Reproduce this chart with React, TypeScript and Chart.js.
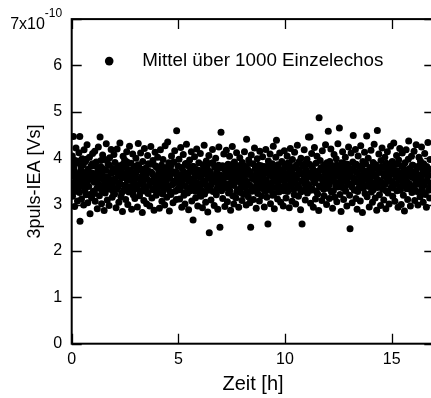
import React, { useEffect, useRef } from "react";
import { Chart, registerables } from "chart.js";

Chart.register(...registerables);

// Zeit [h], 3puls-IEA [10^-10 Vs]
const hour00 = [[0.01,3.62],[0.03,4.05],[0.04,3.18],[0.06,3.85],[0.08,4.47],[0.10,3.40],[0.12,3.73],[0.14,2.96],[0.16,3.95],[0.18,3.52],[0.20,4.22],[0.23,3.31],[0.25,3.66],[0.27,3.08],[0.29,3.89],[0.31,3.47],[0.34,4.12],[0.36,3.26],[0.38,4.47],[0.39,2.64],[0.42,3.58],[0.44,3.79],[0.46,3.12],[0.49,3.99],[0.51,3.43],[0.53,3.70],[0.56,2.99],[0.58,4.18],[0.60,3.36],[0.63,3.61],[0.65,3.93],[0.67,3.21],[0.70,3.50],[0.72,4.29],[0.75,3.04],[0.77,3.76],[0.80,3.39],[0.83,4.02],[0.86,2.80],[0.88,3.55],[0.91,3.83],[0.93,3.15],[0.96,3.68],[0.98,4.10],
  [0.02,3.45],[0.09,3.80],[0.15,3.28],[0.21,3.64],[0.28,3.92],[0.33,3.37],[0.41,3.71],[0.47,3.55],[0.54,3.86],[0.62,3.30],[0.69,3.98],[0.74,3.49],[0.81,3.66],[0.85,3.22],[0.92,3.58],[0.97,3.88]];
const hour01 = [[1.01,3.29],[1.03,3.86],[1.06,3.48],[1.08,4.15],[1.10,3.07],[1.13,3.64],[1.15,3.92],[1.18,3.35],[1.20,2.91],[1.22,3.72],[1.25,4.24],[1.27,3.44],[1.30,3.19],[1.33,4.46],[1.35,3.57],[1.38,3.81],[1.40,3.02],[1.42,3.66],[1.45,4.07],[1.47,3.38],[1.50,3.53],[1.52,2.87],[1.55,3.97],[1.57,3.25],[1.60,3.74],[1.62,4.31],[1.65,3.46],[1.67,3.10],[1.70,3.88],[1.72,3.59],[1.75,2.98],[1.78,4.01],[1.80,3.33],[1.83,3.69],[1.85,4.19],[1.88,3.41],[1.90,3.16],[1.93,3.78],[1.95,3.54],[1.98,4.08],
  [1.02,3.62],[1.07,3.24],[1.12,3.83],[1.19,3.51],[1.24,3.36],[1.31,3.70],[1.37,3.95],[1.44,3.29],[1.49,3.77],[1.56,3.43],[1.63,3.60],[1.69,3.34],[1.76,3.85],[1.82,3.49],[1.89,3.68],[1.96,3.26]];
const hour02 = [[2.01,3.23],[2.03,3.91],[2.06,3.50],[2.08,2.93],[2.11,3.71],[2.13,4.20],[2.16,3.37],[2.18,3.62],[2.21,3.05],[2.23,3.84],[2.26,4.33],[2.28,3.45],[2.31,3.17],[2.33,3.77],[2.36,3.58],[2.38,2.85],[2.41,4.04],[2.43,3.30],[2.46,3.67],[2.48,3.96],[2.51,3.42],[2.53,3.11],[2.56,3.80],[2.58,4.14],[2.61,3.52],[2.63,3.00],[2.66,3.73],[2.68,3.27],[2.71,4.26],[2.73,3.60],[2.76,3.39],[2.78,3.89],[2.81,2.90],[2.83,3.63],[2.86,4.09],[2.88,3.21],[2.91,3.48],[2.93,3.82],[2.96,3.13],[2.98,3.70],
  [2.04,3.55],[2.09,3.33],[2.14,3.79],[2.20,3.47],[2.27,3.68],[2.34,3.25],[2.40,3.87],[2.47,3.40],[2.54,3.61],[2.60,3.92],[2.67,3.35],[2.74,3.74],[2.80,3.53],[2.87,3.29],[2.92,3.66],[2.97,3.44]];
const hour03 = [[3.01,4.00],[3.03,3.34],[3.06,3.57],[3.08,2.95],[3.11,3.86],[3.12,4.32],[3.16,3.44],[3.18,3.19],[3.21,3.75],[3.23,4.11],[3.26,3.28],[3.28,3.61],[3.31,2.83],[3.33,3.93],[3.36,3.49],[3.38,3.09],[3.41,4.21],[3.43,3.68],[3.46,3.36],[3.48,3.79],[3.51,3.02],[3.53,3.55],[3.56,4.06],[3.58,3.24],[3.61,3.72],[3.63,3.41],[3.66,2.97],[3.68,3.87],[3.71,4.25],[3.73,3.51],[3.76,3.14],[3.78,3.66],[3.81,3.95],[3.83,3.32],[3.86,2.88],[3.88,3.59],[3.91,4.13],[3.93,3.46],[3.96,3.20],[3.98,3.81],
  [3.02,3.69],[3.09,3.41],[3.14,3.83],[3.20,3.30],[3.27,3.55],[3.34,3.76],[3.40,3.38],[3.47,3.62],[3.54,3.27],[3.60,3.88],[3.67,3.46],[3.74,3.70],[3.80,3.33],[3.87,3.58],[3.92,3.84],[3.97,3.39]];
const hour04 = [[4.01,3.53],[4.03,4.02],[4.06,3.26],[4.08,3.74],[4.11,2.92],[4.13,3.64],[4.16,4.18],[4.18,3.40],[4.21,3.85],[4.23,3.07],[4.26,3.58],[4.28,3.97],[4.31,3.31],[4.33,3.69],[4.36,2.99],[4.38,4.27],[4.41,3.47],[4.43,3.80],[4.46,3.16],[4.48,3.62],[4.50,4.35],[4.53,3.38],[4.55,3.90],[4.58,2.86],[4.60,3.56],[4.63,3.76],[4.65,3.22],[4.68,4.05],[4.70,3.43],[4.73,3.67],[4.75,3.04],[4.78,3.92],[4.80,3.50],[4.83,4.16],[4.85,3.29],[4.88,3.71],[4.90,3.11],[4.92,4.59],[4.95,3.60],[4.98,3.83],
  [4.02,3.33],[4.07,3.66],[4.14,3.48],[4.20,3.81],[4.27,3.23],[4.34,3.55],[4.40,3.72],[4.47,3.37],[4.54,3.63],[4.61,3.28],[4.67,3.86],[4.74,3.44],[4.81,3.69],[4.87,3.52],[4.93,3.31],[4.99,3.47]];
const hour05 = [[5.01,3.35],[5.03,3.98],[5.06,3.12],[5.08,3.65],[5.11,4.23],[5.13,3.45],[5.16,2.94],[5.18,3.78],[5.21,3.54],[5.23,4.08],[5.26,3.20],[5.28,3.70],[5.31,3.01],[5.33,3.88],[5.36,3.39],[5.38,4.30],[5.41,3.61],[5.43,3.25],[5.46,3.84],[5.48,2.89],[5.51,3.57],[5.53,3.96],[5.56,3.30],[5.58,3.73],[5.61,4.14],[5.63,3.08],[5.66,3.49],[5.69,2.67],[5.71,3.82],[5.73,3.37],[5.76,4.03],[5.78,3.63],[5.81,3.15],[5.83,3.76],[5.86,4.20],[5.88,3.42],[5.91,2.97],[5.93,3.68],[5.96,3.90],[5.98,3.27],
  [5.04,3.56],[5.09,3.32],[5.14,3.80],[5.20,3.43],[5.27,3.64],[5.34,3.26],[5.40,3.89],[5.47,3.51],[5.54,3.71],[5.60,3.38],[5.67,3.82],[5.74,3.55],[5.80,3.29],[5.87,3.67],[5.92,3.46],[5.97,3.74]];
const hour06 = [[6.01,3.59],[6.03,4.10],[6.06,3.18],[6.08,3.72],[6.11,3.44],[6.13,2.93],[6.16,3.86],[6.18,3.52],[6.21,4.28],[6.23,3.23],[6.26,3.66],[6.28,3.05],[6.31,3.94],[6.33,3.40],[6.36,3.77],[6.38,2.84],[6.41,3.58],[6.43,4.06],[6.45,2.39],[6.48,3.33],[6.50,3.71],[6.53,3.10],[6.55,3.89],[6.58,3.47],[6.60,4.19],[6.63,3.28],[6.65,3.62],[6.68,2.98],[6.70,3.81],[6.73,3.51],[6.75,4.00],[6.78,3.21],[6.80,3.69],[6.83,3.36],[6.85,2.90],[6.88,3.85],[6.90,4.24],[6.93,3.43],[6.95,2.51],[6.98,3.64],
  [6.02,3.37],[6.07,3.63],[6.14,3.29],[6.20,3.75],[6.27,3.49],[6.34,3.83],[6.40,3.31],[6.47,3.66],[6.54,3.42],[6.61,3.90],[6.67,3.54],[6.74,3.27],[6.81,3.60],[6.87,3.44],[6.92,3.79],[6.97,3.35]];
const hour07 = [[7.00,4.56],[7.03,3.30],[7.05,3.79],[7.08,3.13],[7.10,3.57],[7.13,4.09],[7.15,3.46],[7.18,2.96],[7.20,3.74],[7.23,3.38],[7.25,4.17],[7.28,3.60],[7.30,3.06],[7.33,3.87],[7.35,3.25],[7.38,3.67],[7.40,4.04],[7.43,3.41],[7.45,2.88],[7.48,3.80],[7.50,3.53],[7.53,4.25],[7.55,3.19],[7.58,3.70],[7.60,3.01],[7.63,3.92],[7.65,3.48],[7.68,3.75],[7.70,3.14],[7.73,4.12],[7.75,3.55],[7.78,3.32],[7.80,3.84],[7.83,2.94],[7.85,3.63],[7.88,4.01],[7.90,3.26],[7.93,3.78],[7.95,3.45],[7.98,3.09],
  [7.02,3.52],[7.07,3.84],[7.14,3.36],[7.21,3.63],[7.27,3.45],[7.34,3.77],[7.41,3.30],[7.47,3.58],[7.54,3.87],[7.61,3.41],[7.67,3.66],[7.74,3.28],[7.81,3.73],[7.87,3.50],[7.92,3.35],[7.97,3.69]];
const hour08 = [[8.00,3.91],[8.03,3.58],[8.05,3.22],[8.08,3.83],[8.10,4.14],[8.13,3.37],[8.15,3.65],[8.18,2.99],[8.20,4.41],[8.23,3.50],[8.25,3.76],[8.28,3.17],[8.30,3.96],[8.33,3.43],[8.35,3.04],[8.38,3.71],[8.39,2.51],[8.42,4.07],[8.45,3.29],[8.47,3.62],[8.50,3.88],[8.52,3.11],[8.55,3.54],[8.57,4.22],[8.60,3.35],[8.62,3.80],[8.65,2.92],[8.67,3.68],[8.70,3.99],[8.72,3.24],[8.75,3.56],[8.77,3.85],[8.80,3.08],[8.82,4.15],[8.85,3.47],[8.87,3.73],[8.90,3.19],[8.92,3.61],[8.95,4.03],[8.97,3.34],
  [8.02,3.44],[8.07,3.72],[8.14,3.52],[8.21,3.28],[8.27,3.65],[8.34,3.89],[8.41,3.39],[8.48,3.57],[8.54,3.31],[8.61,3.78],[8.68,3.46],[8.74,3.63],[8.81,3.36],[8.88,3.84],[8.93,3.53],[8.98,3.70]];
const hour09 = [[9.00,3.66],[9.03,2.95],[9.05,3.82],[9.08,3.40],[9.10,4.19],[9.13,3.53],[9.15,3.16],[9.18,3.77],[9.20,2.58],[9.22,3.94],[9.25,3.31],[9.27,3.64],[9.30,4.09],[9.32,3.02],[9.35,3.71],[9.37,3.46],[9.40,3.88],[9.42,3.20],[9.45,4.26],[9.47,3.57],[9.50,2.91],[9.52,3.79],[9.55,3.37],[9.57,4.02],[9.60,4.39],[9.62,3.61],[9.65,3.12],[9.67,3.86],[9.70,3.49],[9.72,3.27],[9.75,4.11],[9.77,3.70],[9.80,3.05],[9.82,3.59],[9.85,3.93],[9.87,3.33],[9.90,3.75],[9.92,2.97],[9.95,3.52],[9.97,4.16],
  [9.02,3.48],[9.07,3.29],[9.14,3.68],[9.21,3.45],[9.28,3.83],[9.34,3.36],[9.41,3.60],[9.48,3.24],[9.54,3.73],[9.61,3.50],[9.68,3.81],[9.74,3.39],[9.81,3.65],[9.88,3.54],[9.93,3.30],[9.98,3.86]];
const hour10 = [[10.00,3.42],[10.03,3.81],[10.05,3.14],[10.08,3.67],[10.10,4.05],[10.13,3.28],[10.15,3.90],[10.18,3.55],[10.20,2.93],[10.23,3.73],[10.25,4.21],[10.28,3.39],[10.30,3.62],[10.33,3.07],[10.35,3.97],[10.38,3.48],[10.40,3.78],[10.43,3.21],[10.45,4.13],[10.48,3.58],[10.50,3.01],[10.53,3.85],[10.55,3.44],[10.58,4.28],[10.60,3.65],[10.63,3.18],[10.65,3.92],[10.68,3.36],[10.70,3.70],[10.73,2.89],[10.75,4.00],[10.78,3.51],[10.80,2.58],[10.82,3.83],[10.85,3.30],[10.87,3.63],[10.90,4.18],[10.92,3.45],[10.95,3.10],[10.97,3.76],
  [10.02,3.61],[10.07,3.35],[10.14,3.54],[10.21,3.86],[10.27,3.45],[10.34,3.69],[10.41,3.32],[10.47,3.80],[10.54,3.57],[10.61,3.40],[10.67,3.74],[10.74,3.27],[10.81,3.66],[10.88,3.49],[10.93,3.88],[10.98,3.33]];
const hour11 = [[11.00,3.54],[11.03,3.98],[11.05,3.25],[11.08,3.69],[11.10,4.46],[11.13,3.41],[11.15,3.87],[11.17,4.46],[11.20,3.03],[11.23,3.60],[11.25,4.10],[11.28,3.34],[11.30,3.77],[11.33,2.94],[11.35,3.66],[11.38,4.23],[11.40,3.47],[11.43,3.12],[11.45,3.89],[11.48,3.56],[11.50,4.04],[11.53,3.23],[11.55,3.72],[11.58,2.87],[11.60,4.87],[11.62,3.61],[11.65,3.95],[11.68,3.38],[11.70,3.80],[11.73,3.09],[11.75,4.16],[11.78,3.50],[11.80,3.74],[11.83,3.19],[11.85,3.86],[11.88,3.43],[11.90,4.29],[11.93,3.64],[11.95,3.00],[11.98,3.82],
  [11.02,3.70],[11.07,3.44],[11.14,3.63],[11.21,3.31],[11.27,3.82],[11.34,3.52],[11.41,3.71],[11.47,3.29],[11.54,3.58],[11.61,3.40],[11.67,3.76],[11.74,3.55],[11.81,3.33],[11.87,3.68],[11.92,3.47],[11.97,3.90]];
const hour12 = [[12.00,3.35],[12.03,4.58],[12.05,3.71],[12.08,3.13],[12.10,3.93],[12.13,3.49],[12.15,4.20],[12.18,3.27],[12.20,3.68],[12.23,2.92],[12.25,3.84],[12.28,3.52],[12.30,4.08],[12.33,3.16],[12.35,3.75],[12.38,3.40],[12.40,3.99],[12.43,3.06],[12.45,3.63],[12.48,4.31],[12.50,3.46],[12.53,3.79],[12.55,4.65],[12.58,3.22],[12.60,3.59],[12.63,2.85],[12.65,3.90],[12.68,3.37],[12.70,4.14],[12.73,3.66],[12.75,3.11],[12.78,3.81],[12.80,3.53],[12.83,4.02],[12.85,3.29],[12.88,3.73],[12.90,2.97],[12.93,3.87],[12.95,3.44],[12.98,4.24],
  [12.02,3.58],[12.07,3.42],[12.14,3.80],[12.21,3.55],[12.27,3.30],[12.34,3.64],[12.41,3.85],[12.47,3.38],[12.54,3.60],[12.61,3.74],[12.67,3.47],[12.74,3.89],[12.81,3.34],[12.87,3.62],[12.92,3.51],[12.97,3.77]];
const hour13 = [[13.00,3.60],[13.03,3.20],[13.05,2.48],[13.08,3.78],[13.10,4.11],[13.13,3.45],[13.15,3.04],[13.18,3.92],[13.20,4.49],[13.23,3.57],[13.25,3.31],[13.28,3.85],[13.30,4.19],[13.33,3.13],[13.35,3.70],[13.38,2.90],[13.40,3.48],[13.43,4.05],[13.45,3.36],[13.48,3.82],[13.50,3.62],[13.53,3.08],[13.55,4.27],[13.58,3.51],[13.60,3.76],[13.63,2.83],[13.65,3.93],[13.68,3.42],[13.70,3.67],[13.73,4.13],[13.75,3.24],[13.78,3.88],[13.80,3.55],[13.83,4.48],[13.85,3.17],[13.88,3.71],[13.90,4.00],[13.93,3.39],[13.95,2.95],[13.98,3.80],
  [13.02,3.44],[13.07,3.66],[13.14,3.38],[13.21,3.75],[13.27,3.53],[13.34,3.87],[13.41,3.28],[13.47,3.63],[13.54,3.46],[13.61,3.81],[13.67,3.35],[13.74,3.58],[13.81,3.72],[13.87,3.42],[13.92,3.67],[13.97,3.54]];
const hour14 = [[14.00,3.58],[14.03,4.17],[14.05,3.27],[14.08,3.74],[14.10,3.05],[14.13,3.91],[14.15,3.46],[14.18,4.30],[14.20,3.65],[14.23,3.14],[14.25,3.86],[14.28,3.40],[14.30,2.88],[14.33,4.60],[14.35,3.77],[14.38,3.53],[14.40,4.09],[14.43,3.21],[14.45,3.69],[14.48,2.98],[14.50,3.95],[14.53,3.48],[14.55,4.22],[14.58,3.33],[14.60,3.80],[14.63,3.10],[14.65,3.61],[14.68,4.02],[14.70,3.44],[14.73,2.91],[14.75,3.89],[14.78,3.56],[14.80,4.14],[14.83,3.25],[14.85,3.72],[14.88,3.01],[14.90,3.84],[14.93,3.50],[14.95,4.26],[14.98,3.37],
  [14.02,3.41],[14.07,3.63],[14.14,3.32],[14.21,3.86],[14.27,3.59],[14.34,3.37],[14.41,3.71],[14.47,3.50],[14.54,3.82],[14.61,3.43],[14.67,3.67],[14.74,3.30],[14.81,3.78],[14.87,3.55],[14.92,3.64],[14.97,3.88]];
const hour15 = [[15.00,3.68],[15.03,3.93],[15.05,3.18],[15.08,3.79],[15.10,4.33],[15.13,3.43],[15.15,3.07],[15.18,3.87],[15.20,3.59],[15.23,4.06],[15.25,3.30],[15.28,3.73],[15.30,2.94],[15.33,3.96],[15.35,3.52],[15.38,4.21],[15.40,3.38],[15.43,3.66],[15.45,3.00],[15.48,3.83],[15.50,4.11],[15.53,3.47],[15.55,3.20],[15.58,3.75],[15.60,2.86],[15.63,3.90],[15.65,3.55],[15.68,4.18],[15.70,3.34],[15.73,3.64],[15.75,3.11],[15.78,3.98],[15.80,4.37],[15.83,3.45],[15.85,3.78],[15.88,2.97],[15.90,3.70],[15.93,4.04],[15.95,3.26],[15.98,3.62],
  [15.02,3.50],[15.07,3.36],[15.14,3.71],[15.21,3.45],[15.27,3.88],[15.34,3.62],[15.41,3.31],[15.47,3.57],[15.54,3.83],[15.61,3.40],[15.67,3.69],[15.74,3.48],[15.81,3.76],[15.87,3.34],[15.92,3.60],[15.97,3.85]];
const hour16 = [[16.00,3.85],[16.03,3.40],[16.05,4.15],[16.08,3.09],[16.10,3.71],[16.13,3.51],[16.15,4.29],[16.18,3.28],[16.20,3.80],[16.23,2.99],[16.25,3.63],[16.28,4.02],[16.30,3.44],[16.33,3.17],[16.35,3.94],[16.38,3.57],[16.40,4.24],[16.43,3.36],[16.45,3.75],[16.48,3.05],[16.50,3.88],[16.53,3.49],[16.55,4.10],[16.58,3.22],[16.60,3.68],[16.63,2.94],[16.65,3.82],[16.68,3.60],[16.70,4.34],[16.73,3.31],[16.75,3.77],[16.78,3.14],[16.80,3.97],[16.83,3.46],
  [16.02,3.58],[16.07,3.34],[16.14,3.70],[16.21,3.47],[16.27,3.83],[16.34,3.55],[16.41,3.30],[16.47,3.67],[16.54,3.42],[16.61,3.79],[16.67,3.51],[16.74,3.64],[16.81,3.38]];

const xTicks = [0, 5, 10, 15];
const yTicks = [0, 1, 2, 3, 4, 5, 6, 7];
const yTickLabels = ["0", "1", "2", "3", "4", "5", "6"];
const legendLabel = "Mittel über 1000 Einzelechos";
const xTitle = "Zeit [h]";
const yTitle = "3puls-IEA [Vs]";
const topLabelMain = "7x10";
const topLabelExp = "-10";

const FONT = "'Liberation Sans', Arial, Helvetica, sans-serif";
const CANVAS_W = 452;
const CANVAS_H = 398;
const TICK_LEN = 10;

const decorPlugin = {
  id: "decor",
  afterDatasetsDraw(chart: any) {
    const { ctx, chartArea: a, scales } = chart;
    const xs = scales.x;
    const ys = scales.y;
    ctx.save();
    ctx.strokeStyle = "#000";
    ctx.lineWidth = 1.3;
    ctx.beginPath();
    for (const t of xs.ticks) {
      const px = Math.round(xs.getPixelForValue(t.value)) + 0.5;
      ctx.moveTo(px, a.bottom);
      ctx.lineTo(px, a.bottom - TICK_LEN);
      ctx.moveTo(px, a.top);
      ctx.lineTo(px, a.top + TICK_LEN);
    }
    for (const t of ys.ticks) {
      const py = Math.round(ys.getPixelForValue(t.value)) + 0.5;
      ctx.moveTo(a.left, py);
      ctx.lineTo(a.left + TICK_LEN, py);
      ctx.moveTo(a.right, py);
      ctx.lineTo(a.right - TICK_LEN, py);
    }
    ctx.stroke();
    ctx.lineWidth = 2;
    ctx.strokeRect(a.left, a.top, a.right - a.left, a.bottom - a.top);

    // legend
    ctx.fillStyle = "#000";
    ctx.beginPath();
    ctx.arc(a.left + 37.5, a.top + 42, 4.3, 0, Math.PI * 2);
    ctx.fill();
    ctx.font = `18.8px ${FONT}`;
    ctx.textAlign = "left";
    ctx.textBaseline = "middle";
    ctx.fillText(legendLabel, a.left + 70.5, a.top + 42);

    // top y label with exponent
    const y7 = ys.getPixelForValue(7);
    const rightX = a.left - 9.5;
    ctx.textAlign = "right";
    ctx.font = `12px ${FONT}`;
    const expW = ctx.measureText(topLabelExp).width;
    ctx.fillText(topLabelExp, rightX, y7 - 5);
    ctx.font = `16px ${FONT}`;
    ctx.fillText(topLabelMain, rightX - expW, y7 + 5);
    ctx.restore();
  },
};

export default function App() {
  const ref = useRef<HTMLCanvasElement | null>(null);
  useEffect(() => {
    if (!ref.current) return;
    const all = [
      ...hour00, ...hour01, ...hour02, ...hour03, ...hour04, ...hour05,
      ...hour06, ...hour07, ...hour08, ...hour09, ...hour10, ...hour11,
      ...hour12, ...hour13, ...hour14, ...hour15, ...hour16,
    ].map(([x, y]) => ({ x, y }));
    const chart = new Chart(ref.current, {
      type: "scatter",
      data: {
        datasets: [
          {
            label: legendLabel,
            data: all,
            backgroundColor: "#000",
            borderColor: "#000",
            borderWidth: 0,
            pointRadius: 3.5,
            pointHoverRadius: 3.5,
          },
        ],
      },
      options: {
        responsive: false,
        animation: false,
        devicePixelRatio: 1,
        layout: { padding: { left: 0, top: 13, right: CANVAS_W - 434.3, bottom: 0 } },
        plugins: { legend: { display: false }, tooltip: { enabled: false } },
        events: [],
        scales: {
          x: {
            type: "linear",
            min: 0,
            max: 17,
            afterFit: (s: any) => { s.height = CANVAS_H - 343.7; },
            afterBuildTicks: (s: any) => { s.ticks = xTicks.map((v) => ({ value: v })); },
            grid: { display: false, drawTicks: false },
            border: { display: false },
            ticks: {
              color: "#000",
              padding: 6,
              font: { family: FONT, size: 16 },
              maxRotation: 0,
              autoSkip: false,
              callback: (v: any) => String(v),
            },
            title: {
              display: true,
              text: xTitle,
              color: "#000",
              font: { family: FONT, size: 20 },
              padding: { top: 0, bottom: 2 },
            },
          },
          y: {
            type: "linear",
            min: 0,
            max: 7,
            afterFit: (s: any) => { s.width = 71.7; },
            afterBuildTicks: (s: any) => { s.ticks = yTicks.map((v) => ({ value: v })); },
            grid: { display: false, drawTicks: false },
            border: { display: false },
            ticks: {
              color: "#000",
              padding: 9.5,
              font: { family: FONT, size: 16 },
              autoSkip: false,
              callback: (v: any) => (v < yTickLabels.length ? yTickLabels[v] : ""),
            },
            title: {
              display: true,
              text: yTitle,
              color: "#000",
              font: { family: FONT, size: 18 },
              padding: { top: 24, bottom: 0 },
            },
          },
        },
      },
      plugins: [decorPlugin],
    });
    return () => chart.destroy();
  }, []);
  return (
    <div style={{ position: "fixed", left: 0, top: 0, width: 431, height: 398, overflow: "hidden", background: "#fff" }}>
      <canvas ref={ref} width={CANVAS_W} height={CANVAS_H} style={{ width: CANVAS_W, height: CANVAS_H, display: "block" }} />
    </div>
  );
}
